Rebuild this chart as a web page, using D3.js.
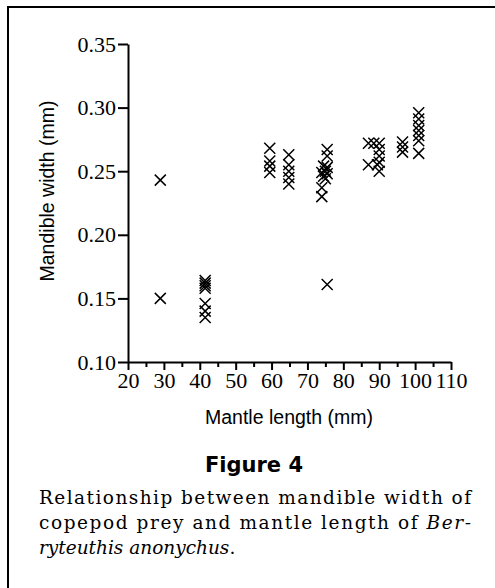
<!DOCTYPE html>
<html lang="en">
<head>
  <meta charset="UTF-8">
  <title>Figure 4 - mandible width vs mantle length</title>
  <script src="https://cdnjs.cloudflare.com/ajax/libs/d3/7.8.5/d3.min.js"></script>
  <style>
    body {
      margin: 0;
      background: white;
    }
    svg {
      display: block;
      background: white;
    }
    .tick text {
      font-family: "Liberation Serif", "Times New Roman", serif;
      font-size: 22px;
      fill: black;
    }
    .axis-title {
      font-family: "Liberation Sans", Arial, sans-serif;
      font-size: 19.5px;
      text-anchor: middle;
    }
    .fig-title {
      font-family: "DejaVu Sans", Verdana, sans-serif;
      font-weight: bold;
      font-size: 21px;
      text-anchor: middle;
    }
    .caption {
      font-family: "DejaVu Serif", serif;
      font-size: 18.5px;
    }
  </style>
</head>
<body>
  <script>
    // mantle length (mm) and mandible width (mm)
    var mantleLength = [
      29, 29,
      41.5, 41.5, 41.5, 41.5, 41.5, 41.5, 41.5,
      59.5, 59.5, 59.5, 59.5,
      64.8, 64.8, 64.8, 64.8, 64.8,
      75.5, 75.5, 74.5, 75.5, 75, 74, 75.5, 74.5, 75, 74, 74, 75.5,
      87, 87, 88.5, 90, 90, 90, 90, 89.5, 90,
      96.5, 96.5, 96.5,
      101, 101, 101, 101, 101, 101, 101
    ];
    var mandibleWidth = [
      0.243, 0.150,
      0.164, 0.162, 0.160, 0.158, 0.146, 0.140, 0.135,
      0.268, 0.258, 0.254, 0.249,
      0.263, 0.255, 0.250, 0.245, 0.240,
      0.267, 0.262, 0.254, 0.253, 0.250, 0.249, 0.248, 0.246, 0.244, 0.237, 0.230, 0.161,
      0.272, 0.255, 0.272, 0.272, 0.267, 0.262, 0.257, 0.255, 0.250,
      0.273, 0.269, 0.265,
      0.296, 0.291, 0.286, 0.282, 0.278, 0.274, 0.264
    ];
    var xTicks = [20, 30, 40, 50, 60, 70, 80, 90, 100, 110];
    var xMinorTicks = [25, 35, 45, 55, 65, 75, 85, 95, 105];
    var yTicks = [0.10, 0.15, 0.20, 0.25, 0.30, 0.35];
    var captionLines = [
      "Relationship between mandible width of",
      "copepod prey and mantle length of ",
      "ryteuthis anonychus"
    ];

    var w = 495;
    var h = 588;

    var svg = d3.select("body").append("svg")
      .attr("width", w)
      .attr("height", h);

    // frame round the figure (right and bottom edges fall outside the crop)
    svg.append("rect")
      .attr("x", 8)
      .attr("y", 7)
      .attr("width", 600)
      .attr("height", 700)
      .attr("fill", "none")
      .attr("stroke", "black")
      .attr("stroke-width", 2);

    var xScale = d3.scaleLinear()
      .domain([20, 110])
      .range([128, 451]);

    var yScale = d3.scaleLinear()
      .domain([0.10, 0.35])
      .range([362, 44]);

    svg.append("g")
      .attr("transform", "translate(0," + yScale(0.10) + ")")
      .call(d3.axisBottom(xScale)
        .tickValues(xTicks)
        .tickSize(8)
        .tickSizeOuter(0)
        .tickPadding(2)
        .tickFormat(d3.format("d")));

    svg.append("g")
      .attr("transform", "translate(0," + yScale(0.10) + ")")
      .call(d3.axisBottom(xScale)
        .tickValues(xMinorTicks)
        .tickSize(5)
        .tickSizeOuter(0)
        .tickFormat(""))
      .select(".domain").remove();

    svg.append("g")
      .attr("transform", "translate(" + xScale(20) + ",0)")
      .call(d3.axisLeft(yScale)
        .tickValues(yTicks)
        .tickSize(10)
        .tickSizeOuter(0)
        .tickPadding(2)
        .tickFormat(d3.format(".2f")));

    svg.selectAll(".domain, .tick line")
      .attr("stroke", "black")
      .attr("stroke-width", 2);

    // x-shaped markers
    var r = 5.5;
    var points = mantleLength.map(function(d, i) {
      return [d, mandibleWidth[i]];
    });

    svg.selectAll(".mark")
      .data(points)
      .enter()
      .append("path")
      .classed("mark", true)
      .attr("d", function(d) {
        var cx = xScale(d[0]);
        var cy = yScale(d[1]);
        return "M" + (cx - r) + "," + (cy - r) + "L" + (cx + r) + "," + (cy + r) +
          "M" + (cx - r) + "," + (cy + r) + "L" + (cx + r) + "," + (cy - r);
      })
      .attr("stroke", "black")
      .attr("stroke-width", 1.5)
      .attr("fill", "none");

    svg.append("text")
      .classed("axis-title", true)
      .attr("x", 289)
      .attr("y", 424)
      .text("Mantle length (mm)");

    svg.append("text")
      .classed("axis-title", true)
      .attr("transform", "translate(54,191) rotate(-90)")
      .text("Mandible width (mm)");

    svg.append("text")
      .classed("fig-title", true)
      .attr("x", 254)
      .attr("y", 472)
      .text("Figure 4");

    svg.append("text")
      .classed("caption", true)
      .attr("x", 39)
      .attr("y", 504)
      .attr("textLength", 432)
      .attr("lengthAdjust", "spacing")
      .text(captionLines[0]);

    var line2 = svg.append("text")
      .classed("caption", true)
      .attr("x", 39)
      .attr("y", 529)
      .attr("textLength", 432)
      .attr("lengthAdjust", "spacing");
    line2.append("tspan").text(captionLines[1]);
    line2.append("tspan").attr("font-style", "italic").text("Ber-");

    var line3 = svg.append("text")
      .classed("caption", true)
      .attr("x", 39)
      .attr("y", 554);
    line3.append("tspan").attr("font-style", "italic").text(captionLines[2]);
    line3.append("tspan").text(".");
  </script>
</body>
</html>
